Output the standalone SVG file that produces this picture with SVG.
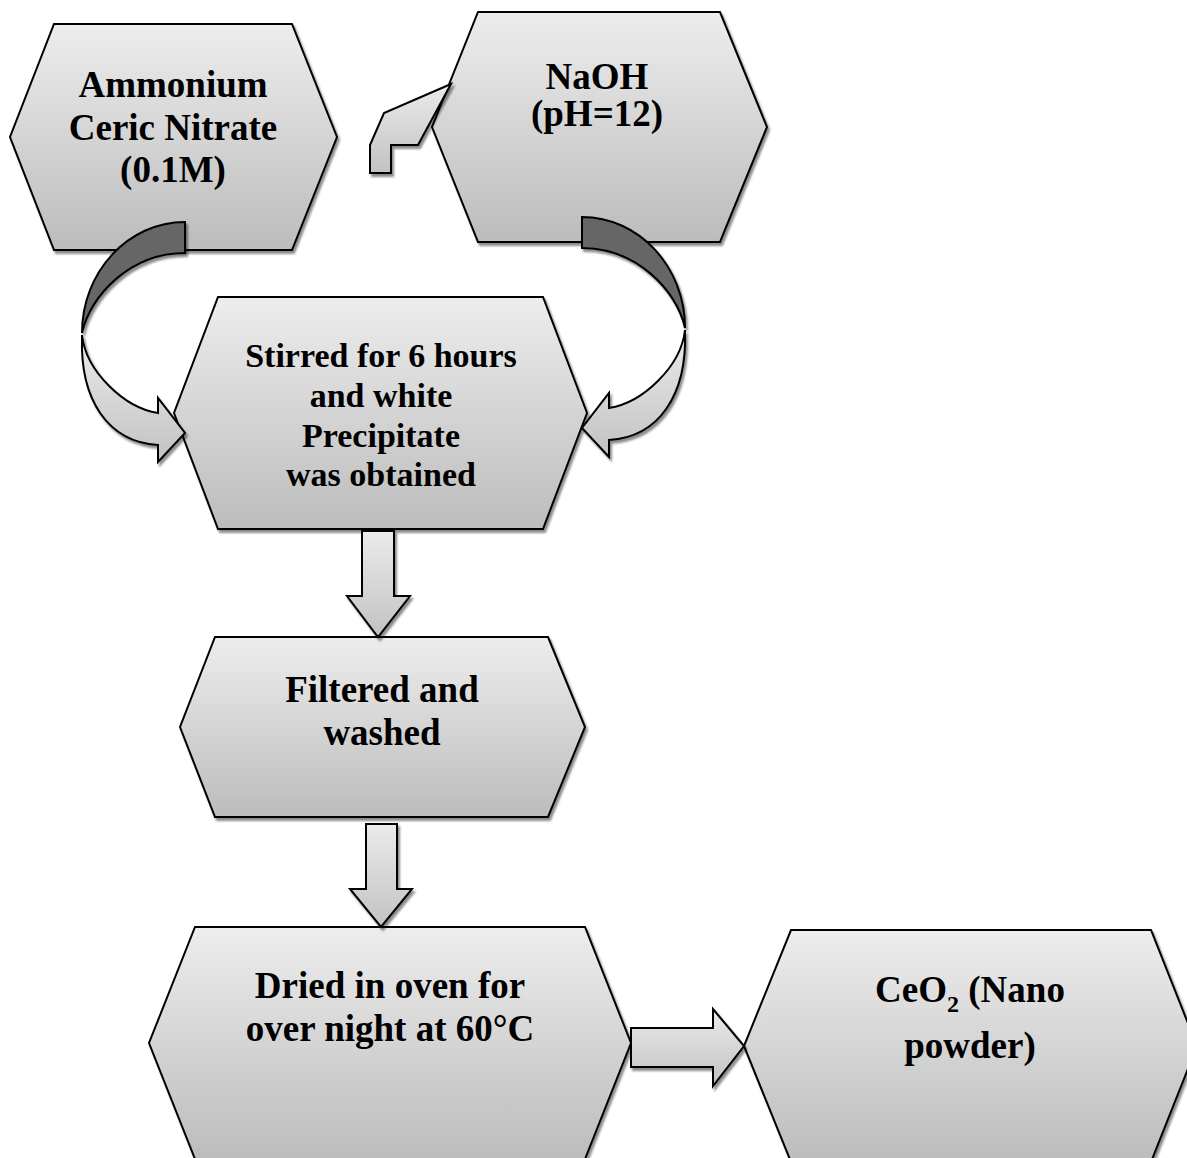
<svg xmlns="http://www.w3.org/2000/svg" width="1187" height="1158" viewBox="0 0 1187 1158">
<defs>
<linearGradient id="gHex" x1="0" y1="0" x2="0" y2="1">
<stop offset="0" stop-color="#ededed"/>
<stop offset="1" stop-color="#bcbcbc"/>
</linearGradient>
<linearGradient id="gArr" x1="0" y1="0" x2="0" y2="1">
<stop offset="0" stop-color="#ebebeb"/>
<stop offset="1" stop-color="#c2c2c2"/>
</linearGradient>
<filter id="sh" x="-10%" y="-10%" width="130%" height="130%">
<feDropShadow dx="2" dy="3" stdDeviation="1.2" flood-color="#000" flood-opacity="0.45"/>
</filter>
</defs>
<style>
.hex{fill:url(#gHex);stroke:#000;stroke-width:2;stroke-linejoin:miter}
.arr{fill:url(#gArr);stroke:#000;stroke-width:2;stroke-linejoin:miter}
.dark{fill:#666;stroke:#000;stroke-width:2}
.t{font-family:"Liberation Serif","Times New Roman",serif;font-weight:bold;font-size:37px;fill:#000;text-anchor:middle}
.t34{font-size:34px}
</style>
<rect width="1187" height="1158" fill="#fff"/>

<g id="node-ammonium">
<polygon class="hex" filter="url(#sh)" points="54,24 292,24 337,137 292,250 54,250 10,137"/>
<text class="t" x="173" y="97">Ammonium</text>
<text class="t" x="173" y="140">Ceric Nitrate</text>
<text class="t" x="173" y="182">(0.1M)</text>
</g>

<g id="node-naoh">
<polygon class="hex" filter="url(#sh)" points="478,12 720,12 767,127 720,242 478,242 432,127"/>
<text class="t" x="597" y="89">NaOH</text>
<text class="t" x="597" y="126">(pH=12)</text>
</g>

<g id="node-stirred">
<polygon class="hex" filter="url(#sh)" points="218,297 543,297 587,413 543,529 218,529 174,413"/>
<text class="t t34" x="381" y="367">Stirred for 6 hours</text>
<text class="t t34" x="381" y="407">and white</text>
<text class="t t34" x="381" y="447">Precipitate</text>
<text class="t t34" x="381" y="486">was obtained</text>
</g>

<g id="node-filtered">
<polygon class="hex" filter="url(#sh)" points="215,637 548,637 585,727 548,817 215,817 180,727"/>
<text class="t" x="382" y="702">Filtered and</text>
<text class="t" x="382" y="745">washed</text>
</g>

<g id="node-dried">
<polygon class="hex" filter="url(#sh)" points="195,927 585,927 631,1043 585,1159 195,1159 149,1043"/>
<text class="t" x="390" y="998">Dried in oven for</text>
<text class="t" x="390" y="1041">over night at 60°C</text>
</g>

<g id="node-ceo2">
<polygon class="hex" filter="url(#sh)" points="791,930 1151,930 1197,1046 1151,1162 791,1162 744,1046"/>
<text class="t" x="970" y="1002">CeO<tspan font-size="24" dy="10">2</tspan><tspan dy="-10"> (Nano</tspan></text>
<text class="t" x="970" y="1058">powder)</text>
</g>

<g id="connectors">
<polygon class="arr" filter="url(#sh)" points="451,84 384,113 370,145 370,173 391,173 391,145 418,145"/>
<g filter="url(#sh)">
<path class="dark" d="M185,222 C128,222 82,272 82,333 C90,296 130,253 185,253 Z"/>
<path class="arr" d="M82,335 C86,372 125,408 158,413 L158,398 L185,433 L158,462 L158,445 C108,442 80,400 82,337 Z"/>
</g>
<g filter="url(#sh)">
<g transform="translate(767,-5) scale(-1,1)">
<path class="dark" d="M185,222 C128,222 82,272 82,333 C90,296 130,253 185,253 Z"/>
<path class="arr" d="M82,335 C86,372 125,408 158,413 L158,398 L185,433 L158,462 L158,445 C108,442 80,400 82,337 Z"/>
</g>
</g>
<polygon class="arr" filter="url(#sh)" points="362,531 394,531 394,596 410,596 378,637 347,596 362,596"/>
<polygon class="arr" filter="url(#sh)" points="366,824 397,824 397,889 412,889 381,927 350,889 366,889"/>
<polygon class="arr" filter="url(#sh)" points="631,1028 713,1028 713,1009 744,1046 713,1086 713,1067 631,1067"/>
</g>
</svg>
